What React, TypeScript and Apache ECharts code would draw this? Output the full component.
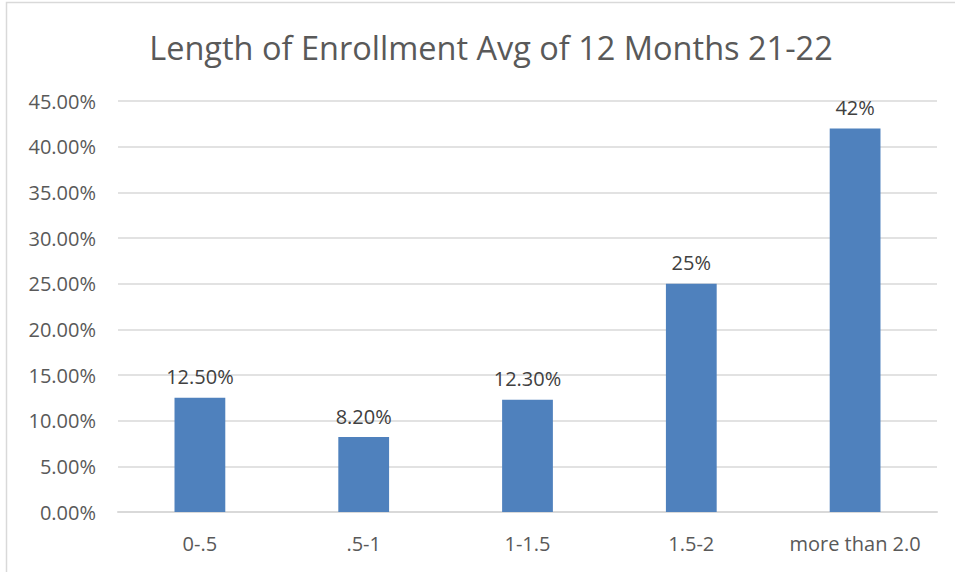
import React, { useEffect, useRef } from "react";
import * as echarts from "echarts";

const categories = ["0-.5", ".5-1", "1-1.5", "1.5-2", "more than 2.0"];
const values = [12.5, 8.2, 12.3, 25, 42];
const valueLabels = ["12.50%", "8.20%", "12.30%", "25%", "42%"];
const yTicks = [0, 5, 10, 15, 20, 25, 30, 35, 40, 45];

export default function App() {
  const ref = useRef<HTMLDivElement>(null);
  useEffect(() => {
    if (!ref.current) return;
    const chart = echarts.init(ref.current, undefined, { renderer: "svg" });
    const font = "'Open Sans', 'Noto Sans', sans-serif";
    chart.setOption({
      animation: false,
      backgroundColor: "#ffffff",
      title: {
        text: "Length of Enrollment Avg of 12 Months 21-22",
        left: 486,
        textAlign: "center",
        top: 26,
        textStyle: { fontFamily: font, fontSize: 32.5, fontWeight: "normal", color: "#595959" },
      },
      graphic: [
        {
          type: "rect",
          shape: { x: 6.5, y: 2.5, width: 1000, height: 1000 },
          style: { fill: "none", stroke: "#d9d9d9", lineWidth: 1.5 },
          silent: true,
        },
      ],
      grid: { left: 118, right: 18, top: 101, bottom: 60, containLabel: false },
      xAxis: {
        type: "category",
        data: categories,
        axisLine: { show: true, lineStyle: { color: "#d9d9d9", width: 2 } },
        axisTick: { show: false },
        axisLabel: { color: "#595959", fontFamily: font, fontSize: 20, margin: 21, interval: 0 },
      },
      yAxis: {
        type: "value",
        min: 0,
        max: yTicks[yTicks.length - 1],
        interval: yTicks[1] - yTicks[0],
        axisLine: { show: false },
        axisTick: { show: false },
        splitLine: { lineStyle: { color: "#d9d9d9", width: 1.5 } },
        axisLabel: {
          color: "#595959",
          fontFamily: font,
          fontSize: 20,
          margin: 22,
          formatter: (v: number) => v.toFixed(2) + "%",
        },
      },
      series: [
        {
          type: "bar",
          data: values,
          barWidth: "31%",
          itemStyle: { color: "#4F81BD" },
          label: {
            show: true,
            position: "top",
            distance: 11,
            color: "#404040",
            fontFamily: font,
            fontSize: 20,
            formatter: (p: any) => valueLabels[p.dataIndex],
          },
        },
      ],
    });
    return () => chart.dispose();
  }, []);
  return (
    <div
      ref={ref}
      style={{ position: "absolute", left: 0, top: 0, width: 955, height: 572 }}
    />
  );
}
